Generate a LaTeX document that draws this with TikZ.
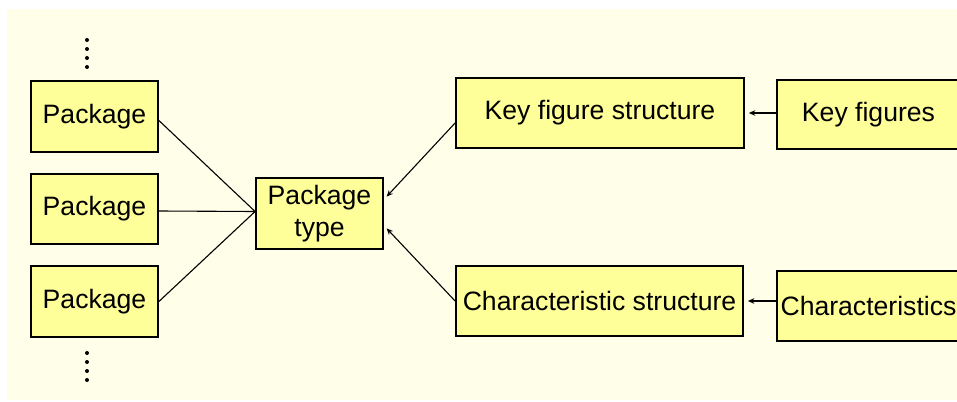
\documentclass[tikz,border=0pt]{standalone}
\usepackage{fontspec}
\setmainfont{Liberation Sans}
\usepackage{xcolor}
\usetikzlibrary{arrows.meta}

\definecolor{bgcream}{HTML}{FFFEE9}
\definecolor{boxyellow}{HTML}{FFFF99}

\begin{document}
\begin{tikzpicture}[x=0.5pt, y=-0.5pt, font=\fontsize{13.3}{16}\selectfont, >={Stealth[length=3.2pt,width=2.8pt]},
	box/.style={draw=black, line width=0.9pt, fill=boxyellow, inner sep=1pt, align=center},
	link/.style={line width=0.55pt},
	feed/.style={->, line width=0.55pt, shorten >=2pt}]

\useasboundingbox (0,0) rectangle (957,401);
\clip (0,0) rectangle (957,401);
\fill[bgcream] (7,9) rectangle (957,400);

% ---- packages ----
\node[box, minimum width=63.5pt, minimum height=35.5pt] (pkgA) at (94.5,116.5) {Package};
\node[box, minimum width=63.5pt, minimum height=35pt] (pkgB) at (94.5,209) {Package};
\node[box, minimum width=63.5pt, minimum height=35.5pt] (pkgC) at (94.5,301.5) {Package};
\foreach \d in {40,49,58,67,353,362,371,380}
	\fill[black] (87,\d) circle (2);

% ---- package type ----
\node[box, minimum width=63.5pt, minimum height=35.5pt] (ptype) at (319.5,213.5) {Package\\type};
\coordinate (hub) at ([yshift=1pt]ptype.west);

% ---- structures ----
\node[box, minimum width=144pt, minimum height=35pt] (kfs) at (600,113) {Key figure structure};
\node[box, minimum width=143.5pt, minimum height=35pt] (chs) at (599.5,301) {Characteristic structure};
\node[box, minimum width=91.5pt, minimum height=34.5pt] (kf) at (868.5,114.5) {Key figures};
\node[box, minimum width=91.5pt, minimum height=35pt] (ch) at (868.5,306) {Characteristics};

% ---- connectors ----
\draw[link] ([yshift=-2pt]pkgA.east) -- (hub);
\draw[link] ([yshift=-1pt]pkgB.east) -- (hub);
\draw[link] (pkgC.east) -- (hub);
\draw[feed] ([yshift=-5pt]kfs.west) -- ([yshift=7pt]ptype.east);
\draw[feed] (chs.west) -- ([yshift=-6pt]ptype.east);
\draw[feed] (kf.west |- kfs.east) -- (kfs.east);
\draw[feed] (ch.west |- chs.east) -- (chs.east);
\end{tikzpicture}
\end{document}
